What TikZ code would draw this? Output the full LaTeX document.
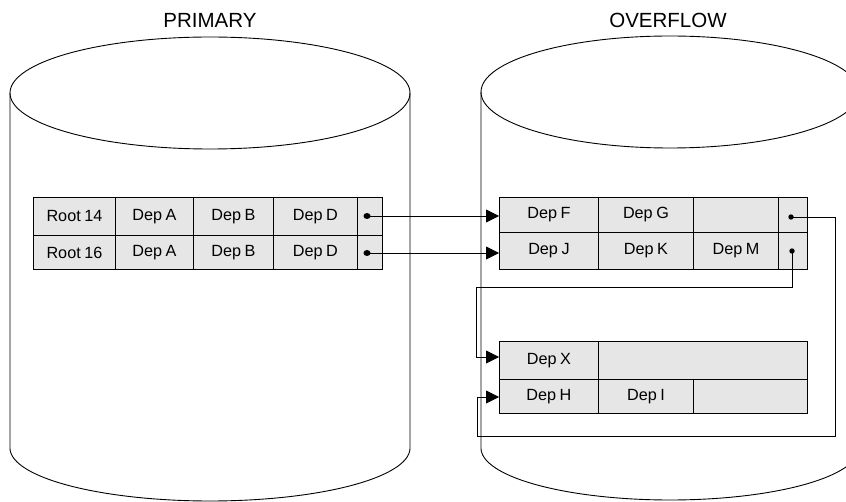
\documentclass[tikz,border=0pt]{standalone}
\usepackage{fontspec}
\setmainfont{Liberation Sans}
\usetikzlibrary{arrows.meta}
\definecolor{cellgray}{HTML}{E6E6E6}
\newcommand{\wsp}{\hspace{0.22em}}
\begin{document}
\begin{tikzpicture}[x=1pt,y=-1pt,
  cyl/.style={line width=0.9pt},
  cell/.style={draw, line width=0.9pt, fill=cellgray, anchor=north west, inner sep=0pt,
    font=\fontsize{16.2}{17}\selectfont},
  title/.style={font=\fontsize{20.5}{22}\selectfont},
  link/.style={line width=0.8pt},
  arr/.style={link, -{Triangle[length=13pt,width=13pt]}},
  dotmark/.style={fill=black}]
\useasboundingbox (0,0) rectangle (846,502);
\clip (0,0) rectangle (846,502);
% titles
\node[title] (tp) at (210,20) {PRIMARY};
\node[title] (to) at (668,20) {OVERFLOW};
% primary cylinder
\draw[cyl] (210,93) ellipse [x radius=200, y radius=56];
\draw[cyl] (10,93) -- (10,448) plot[domain=180:360, samples=120, smooth] ({210+200*cos(\x)},{448-53*sin(\x)}) -- (410,93);
% overflow cylinder
\draw[cyl] (670,92) ellipse [x radius=189, y radius=56];
\draw[cyl] (481,92) -- (481,448) plot[domain=180:360, samples=120, smooth] ({670+189*cos(\x)},{448-52*sin(\x)}) -- (859,92);
% primary records
\node[cell, minimum width=82, minimum height=38] (r14) at (33,197) {Root\wsp14};
\node[cell, minimum width=78, minimum height=38] (a14) at (115,197) {Dep\wsp A};
\node[cell, minimum width=80, minimum height=38] (b14) at (193,197) {Dep\wsp B};
\node[cell, minimum width=84, minimum height=38] (d14) at (273,197) {Dep\wsp D};
\node[cell, minimum width=25, minimum height=38] (p14) at (357,197) {};
\node[cell, minimum width=82, minimum height=34] (r16) at (33,235) {Root\wsp16};
\node[cell, minimum width=78, minimum height=34] (a16) at (115,235) {Dep\wsp A};
\node[cell, minimum width=80, minimum height=34] (b16) at (193,235) {Dep\wsp B};
\node[cell, minimum width=84, minimum height=34] (d16) at (273,235) {Dep\wsp D};
\node[cell, minimum width=25, minimum height=34] (p16) at (357,235) {};
% overflow record 1
\node[cell, minimum width=99, minimum height=35] (F) at (499,197) {Dep\wsp F};
\node[cell, minimum width=95, minimum height=35] (G) at (598,197) {Dep\wsp G};
\node[cell, minimum width=85, minimum height=35] (e1) at (693,197) {};
\node[cell, minimum width=29, minimum height=35] (pF) at (778,197) {};
\node[cell, minimum width=99, minimum height=37] (J) at (499,232) {Dep\wsp J};
\node[cell, minimum width=95, minimum height=37] (K) at (598,232) {Dep\wsp K};
\node[cell, minimum width=85, minimum height=37] (M) at (693,232) {Dep\wsp M};
\node[cell, minimum width=29, minimum height=37] (pJ) at (778,232) {};
% overflow record 2
\node[cell, minimum width=99, minimum height=38] (X) at (499,341) {Dep\wsp X};
\node[cell, minimum width=209, minimum height=38] (e2) at (598,341) {};
\node[cell, minimum width=99, minimum height=34] (H) at (499,379) {Dep\wsp H};
\node[cell, minimum width=95, minimum height=34] (I) at (598,379) {Dep\wsp I};
\node[cell, minimum width=114, minimum height=34] (e3) at (693,379) {};
% pointer dots
\coordinate (d1) at (367,216);
\coordinate (d2) at (367,253);
\coordinate (d3) at (791,217);
\coordinate (d4) at (792,251);
\fill[dotmark] (d1) ellipse [x radius=3.5, y radius=3];
\fill[dotmark] (d2) ellipse [x radius=3.5, y radius=3];
\fill[dotmark] (d3) circle (2.7);
\fill[dotmark] (d4) circle (2.7);
% connectors
\draw[arr] (d1) -- (d1 -| F.west);
\draw[arr] (d2) -- (d2 -| J.west);
\coordinate (c1) at (835,217);
\coordinate (c2) at (835,436);
\coordinate (c3) at (477,436);
\coordinate (c4) at (477,397);
\draw[arr] (d3) -- (c1) -- (c2) -- (c3) -- (c4) -- (c4 -| H.west);
\coordinate (k1) at (792,287);
\coordinate (k2) at (476,287);
\coordinate (k3) at (476,357);
\draw[arr] (d4) -- (k1) -- (k2) -- (k3) -- (k3 -| X.west);
\end{tikzpicture}
\end{document}
